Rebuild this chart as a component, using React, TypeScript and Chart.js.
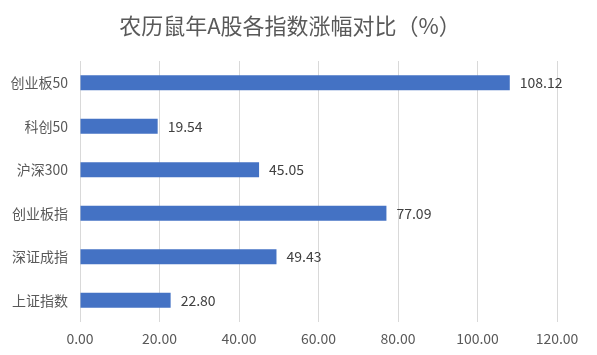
import React, { useEffect, useRef } from "react";
import { Chart, registerables } from "chart.js";

Chart.register(...registerables);

const titleText = "农历鼠年A股各指数涨幅对比（%）";
const categories = ["创业板50", "科创50", "沪深300", "创业板指", "深证成指", "上证指数"];
const values = [108.12, 19.54, 45.05, 77.09, 49.43, 22.8];
const xMin = 0;
const xMax = 120;
const xStep = 20;

const FONT = "'Noto Sans CJK SC', 'Noto Sans', sans-serif";

const titlePlugin = {
  id: "customTitle",
  afterDraw(chart: any) {
    const ctx = chart.ctx;
    ctx.save();
    ctx.font = `22px ${FONT}`;
    ctx.fillStyle = "#595959";
    ctx.textAlign = "center";
    ctx.textBaseline = "middle";
    ctx.fillText(titleText, 290, 26);
    ctx.restore();
  },
};

const labelPlugin = {
  id: "barLabels",
  afterDatasetsDraw(chart: any) {
    const ctx = chart.ctx;
    const meta = chart.getDatasetMeta(0);
    ctx.save();
    ctx.font = `14px ${FONT}`;
    ctx.fillStyle = "#404040";
    ctx.textAlign = "left";
    ctx.textBaseline = "middle";
    meta.data.forEach((bar: any, i: number) => {
      ctx.fillText(values[i].toFixed(2), bar.x + 10, bar.y);
    });
    ctx.restore();
  },
};

export default function App() {
  const ref = useRef<HTMLCanvasElement>(null);
  useEffect(() => {
    document.body.style.margin = "0";
    const chart = new Chart(ref.current!, {
      type: "bar",
      data: {
        labels: categories,
        datasets: [
          {
            data: values,
            backgroundColor: "#4472C4",
            categoryPercentage: 1,
            barPercentage: 0.35,
          },
        ],
      },
      options: {
        indexAxis: "y",
        animation: false,
        responsive: false,
        maintainAspectRatio: false,
        layout: { padding: { top: 61, right: 40, left: 0, bottom: 0 } },
        plugins: { legend: { display: false }, tooltip: { enabled: false }, title: { display: false } },
        scales: {
          x: {
            min: xMin,
            max: xMax,
            ticks: {
              stepSize: xStep,
              padding: 8,
              color: "#595959",
              font: { size: 14, family: FONT },
              callback: (v: any) => Number(v).toFixed(2),
            },
            grid: { color: "#d9d9d9", drawTicks: false },
            border: { display: false },
            afterFit: (s: any) => {
              s.height = 33;
            },
          },
          y: {
            ticks: { padding: 12, color: "#595959", font: { size: 14, family: FONT } },
            grid: { display: false, drawTicks: false },
            border: { display: false },
            afterFit: (s: any) => {
              s.width = 80;
            },
          },
        },
      },
      plugins: [titlePlugin, labelPlugin],
    });
    return () => chart.destroy();
  }, []);
  return <canvas ref={ref} width={597} height={355} style={{ display: "block" }} />;
}
